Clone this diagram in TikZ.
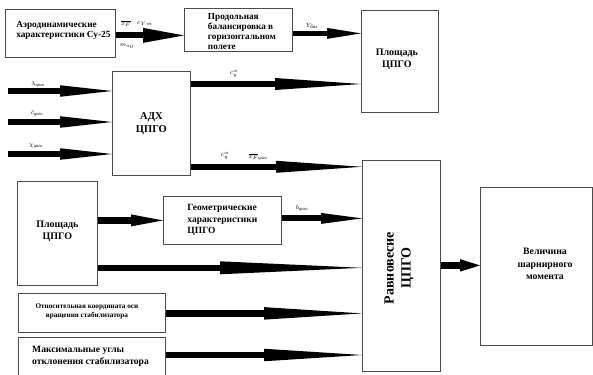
\documentclass[tikz,border=0pt]{standalone}
\usepackage{fontspec}
\setmainfont{Liberation Serif}
\begin{document}
% #1 start, #2 end, #3 shaft width, #4 head length, #5 head width
\newcommand\fatarr[5]{%
  \draw[line width=#3] (#1) -- ([xshift=-#4+1pt]#2);
  \fill ([xshift=-#4, yshift=#5/2]#2) -- (#2) -- ([xshift=-#4, yshift=-#5/2]#2) -- cycle;}
\begin{tikzpicture}[x=1pt,y=-1pt,
  box/.style={draw=black!70, line width=0.8pt, fill=white, inner sep=0pt, anchor=north west},
  txt/.style 2 args={inner sep=0pt, font=\bfseries\fontsize{#1}{#2}\selectfont},
  lbl/.style={inner sep=0pt, font=\itshape\fontsize{6.5}{7}\selectfont}]
\useasboundingbox (0,0) rectangle (593,374);
\clip (0,0) rectangle (593,374);
% boxes
\node[box, minimum width=110pt, minimum height=48pt] (aero) at (5,9) {};
\node[txt={9.3}{10.5}, align=left] (aeroT) at ([xshift=3pt, yshift=3pt]aero.center)
  {Аэродинамические\\характеристики Су-25};
\node[box, minimum width=108pt, minimum height=43pt] (prod) at (184,8) {};
\node[txt={9.2}{10.2}, align=left] (prodT) at ([xshift=3.5pt, yshift=-1.5pt]prod.center)
  {Продольная\\балансировка в\\горизонтальном\\полете};
\node[box, minimum width=77pt, minimum height=102pt] (pl1) at (361,10) {};
\node[txt={10}{12}, align=center] (pl1T) at ([xshift=-3pt, yshift=2pt]pl1.center)
  {Площадь\\ЦПГО};
\node[box, minimum width=78pt, minimum height=104pt] (adx) at (112,71) {};
\node[txt={10.5}{13}, align=center] (adxT) at (adx.center) {АДХ\\ЦПГО};
\node[box, minimum width=78pt, minimum height=211pt] (ravn) at (362,160) {};
\node[rotate=90, align=center, txt={14}{17}] (ravnT) at (399,268)
  {Равновесие\\ЦПГО};
\node[box, minimum width=80pt, minimum height=104pt] (pl2) at (17,181) {};
\node[txt={10}{12}, align=center] (pl2T) at ([yshift=2pt]pl2.center) {Площадь\\ЦПГО};
\node[box, minimum width=118pt, minimum height=48pt] (geom) at (163,196) {};
\node[txt={9.5}{11.5}, align=left] (geomT) at (geom.center)
  {Геометрические\\характеристики\\ЦПГО};
\node[box, minimum width=147pt, minimum height=39pt] (rel) at (18,293) {};
\node[txt={7.2}{9}, align=center] (relT) at ([xshift=-5pt, yshift=2pt]rel.center)
  {Относительная координата оси\\вращения стабилизатора};
\node[box, minimum width=147pt, minimum height=47pt] (maxb) at (18,337) {};
\node[txt={9.6}{12}, align=left, anchor=west] (maxT) at (32,356)
  {Максимальные углы\\отклонения стабилизатора};
\node[box, minimum width=112pt, minimum height=158pt] (vel) at (480,187) {};
\node[txt={9.8}{12.5}, align=center] (velT) at (545,264)
  {Величина\\шарнирного\\момента};
% arrows
\coordinate (a1) at ([yshift=-2pt]aero.east);
\coordinate (a1e) at (a1 -| prod.west);
\fatarr{a1}{a1e}{6pt}{41pt}{15pt}
\coordinate (a2) at ([yshift=-3.5pt]prod.east);
\coordinate (a2e) at (a2 -| pl1.west);
\fatarr{a2}{a2e}{5.7pt}{34pt}{11pt}
\coordinate (i1) at (8,91);
\coordinate (i2) at (8,122);
\coordinate (i3) at (8,154);
\coordinate (i1e) at (i1 -| adx.west);
\coordinate (i2e) at (i2 -| adx.west);
\coordinate (i3e) at (i3 -| adx.west);
\fatarr{i1}{i1e}{6pt}{52pt}{11.5pt}
\fatarr{i2}{i2e}{6pt}{52pt}{11.5pt}
\fatarr{i3}{i3e}{6pt}{52pt}{11.5pt}
\coordinate (o1) at ([yshift=-13pt]adx.north east);
\coordinate (o1e) at (o1 -| pl1.west);
\fatarr{o1}{o1e}{6pt}{86pt}{12pt}
\coordinate (o2) at ([yshift=9pt]adx.south east);
\coordinate (o2e) at (o2 -| ravn.west);
\fatarr{o2}{o2e}{6pt}{86pt}{12pt}
\coordinate (p1) at ([yshift=13pt]pl2.east);
\coordinate (p1e) at (p1 -| geom.west);
\fatarr{p1}{p1e}{6.5pt}{32pt}{12pt}
\coordinate (g1) at ([yshift=2pt]geom.east);
\coordinate (g1e) at (g1 -| ravn.west);
\fatarr{g1}{g1e}{6pt}{41pt}{11pt}
\coordinate (p2) at ([yshift=18pt]pl2.south east);
\coordinate (p2e) at (p2 -| ravn.west);
\fatarr{p2}{p2e}{6.5pt}{142pt}{13pt}
\coordinate (r1) at ([yshift=-0.5pt]rel.east);
\coordinate (r1e) at (r1 -| ravn.west);
\fatarr{r1}{r1e}{6.5pt}{98pt}{12.5pt}
\coordinate (m1) at (maxb.east |- 0,355);
\coordinate (m1e) at (m1 -| ravn.west);
\fatarr{m1}{m1e}{6.5pt}{98pt}{12.5pt}
\coordinate (v1) at ([yshift=0.5pt]ravn.east);
\coordinate (v1e) at (v1 -| vel.west);
\fatarr{v1}{v1e}{7pt}{20pt}{12.5pt}
% labels
\node[lbl] (l1) at (126,24) {$\overline{x_F}$};
\node[lbl] (l2) at (145,24) {$c_{Ym}$};
\node[lbl] (l3) at (127,46) {$m_{z_0}$};
\node[lbl] (l4) at (312,26) {$Y_{\mbox{\tiny\itshape бал}}$};
\node[lbl] (l5) at (38,84) {$\lambda$\textsubscript{цпго}};
\node[lbl] (l6) at (37,114) {$\bar{c}$\textsubscript{цпго}};
\node[lbl] (l7) at (36,146) {$\chi$\textsubscript{цпго}};
\node[lbl] (l8) at (234,74) {$c_y^{\alpha}$};
\node[lbl] (l9) at (225,156) {$c_y^{\alpha}$};
\node[lbl] (l10) at (258,157) {$\overline{x_F}$\textsubscript{цпго}};
\node[lbl] (l11) at (302,208) {$b$\textsubscript{цпго}};
\end{tikzpicture}
\end{document}
